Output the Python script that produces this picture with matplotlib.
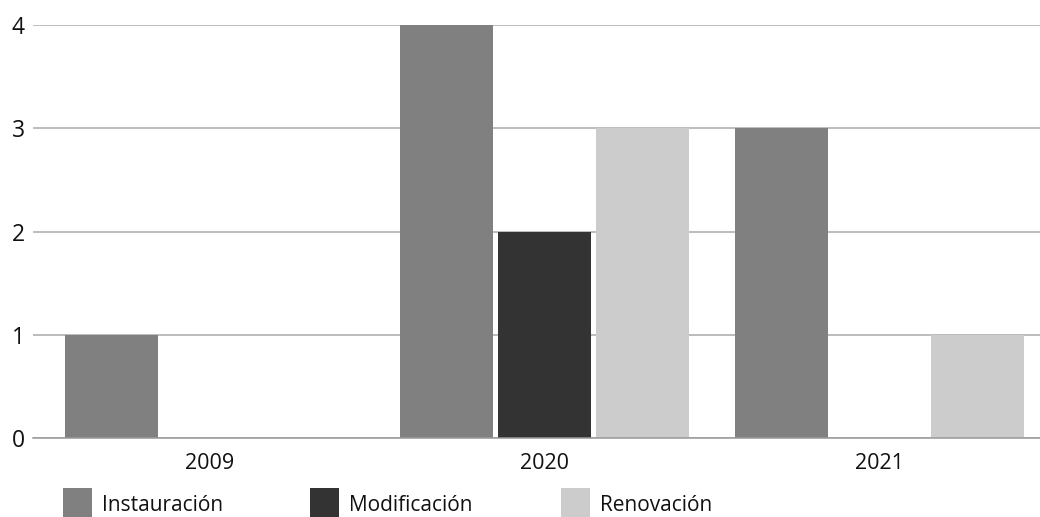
import numpy as np
import matplotlib.pyplot as plt
from matplotlib.patches import Rectangle

#%% datos
years = ['2009', '2020', '2021']
series = ['Instauración', 'Modificación', 'Renovación']
instauracion = [1, 4, 3]
modificacion = [0, 2, 0]
renovacion = [0, 3, 1]
colors = ['#808080', '#333333', '#cccccc']

plt.rcParams['font.family'] = ['Open Sans', 'DejaVu Sans']

#%% figura
W, H = 1040, 517
fig = plt.figure(figsize=(W / 100, H / 100), dpi=100)
ax = fig.add_axes([33 / W, 1 - 438 / H, 1 - 33 / W, (438 - 25) / H])

x = np.arange(len(years))
w = 0.278
step = 0.2925
for i, vals in enumerate([instauracion, modificacion, renovacion]):
    ax.bar(x + (i - 1) * step, vals, width=w, color=colors[i], zorder=2)

ax.set_xlim(-0.528, 2.478)
ax.set_ylim(0, 4)
ax.set_yticks([0, 1, 2, 3, 4])
ax.set_xticks(x)
ax.set_xticklabels(years)
ax.yaxis.grid(True, color='#aaaaaa', linewidth=1.1, zorder=0)
ax.set_axisbelow(True)
for s in ['top', 'right', 'left']:
    ax.spines[s].set_visible(False)
ax.spines['bottom'].set_color('#999999')
ax.spines['bottom'].set_linewidth(1.1)
ax.tick_params(axis='both', length=0, colors='#111111')
ax.tick_params(axis='y', pad=6, labelsize=16.5)
ax.tick_params(axis='x', pad=11, labelsize=15.5)

#%% leyenda (cuadro + texto, alineada abajo como en el original)
sq_x = [63, 310, 561]
for name, col, px in zip(series, colors, sq_x):
    fig.add_artist(Rectangle((px / W, 0), 29 / W, 29 / H, transform=fig.transFigure,
                             facecolor=col, edgecolor='none'))
    fig.text((px + 39) / W, 6 / H, name, fontsize=15, color='#111111',
             ha='left', va='baseline')

plt.savefig('out.png', dpi=100)
